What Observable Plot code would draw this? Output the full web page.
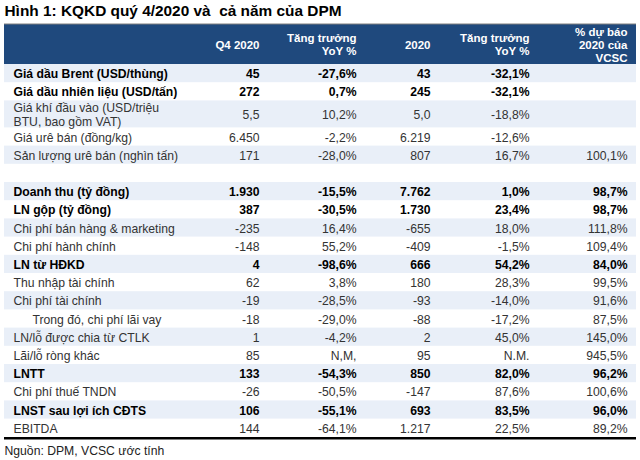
<!DOCTYPE html>
<html>
<head>
<meta charset="utf-8">
<script src="https://cdn.jsdelivr.net/npm/d3@7"></script>
<script src="https://cdn.jsdelivr.net/npm/@observablehq/plot@0.6"></script>
<style>
  html, body { margin: 0; padding: 0; background: #fff; }
  #chart svg { display: block; }
  #chart text { white-space: pre; }
</style>
</head>
<body>
<div id="chart"></div>
<script>
// ---- Data ----
const title = "Hình 1: KQKD quý 4/2020 và  cả năm của DPM";
const caption = "Nguồn: DPM, VCSC ước tính";
const headers = ["Q4 2020", "Tăng trưởng\nYoY %", "2020", "Tăng trưởng\nYoY %", "% dự báo\n2020 của\nVCSC"];
const labels = [
  "Giá dầu Brent (USD/thùng)",
  "Giá dầu nhiên liệu (USD/tấn)",
  "Giá khí đầu vào (USD/triệu\nBTU, bao gồm VAT)",
  "Giá urê bán (đồng/kg)",
  "Sản lượng urê bán (nghìn tấn)",
  "",
  "Doanh thu (tỷ đồng)",
  "LN gộp (tỷ đồng)",
  "Chi phí bán hàng & marketing",
  "Chi phí hành chính",
  "LN từ HĐKD",
  "Thu nhập tài chính",
  "Chi phí tài chính",
  "Trong đó, chi phí lãi vay",
  "LN/lỗ được chia từ CTLK",
  "Lãi/lỗ ròng khác",
  "LNTT",
  "Chi phí thuế TNDN",
  "LNST sau lợi ích CĐTS",
  "EBITDA"
];
const q4 = ["45", "272", "5,5", "6.450", "171", "", "1.930", "387", "-235", "-148", "4", "62", "-19", "-18", "1", "85", "133", "-26", "106", "144"];
const q4Yoy = ["-27,6%", "0,7%", "10,2%", "-2,2%", "-28,0%", "", "-15,5%", "-30,5%", "16,4%", "55,2%", "-98,6%", "3,8%", "-28,5%", "-29,0%", "-4,2%", "N,M,", "-54,3%", "-50,5%", "-55,1%", "-64,1%"];
const fy = ["43", "245", "5,0", "6.219", "807", "", "7.762", "1.730", "-655", "-409", "666", "180", "-93", "-88", "2", "95", "850", "-147", "693", "1.217"];
const fyYoy = ["-32,1%", "-32,1%", "-18,8%", "-12,6%", "16,7%", "", "1,0%", "23,4%", "18,0%", "-1,5%", "54,2%", "28,3%", "-14,0%", "-17,2%", "45,0%", "N.M.", "82,0%", "87,6%", "83,5%", "22,5%"];
const forecast = ["", "", "", "", "100,1%", "", "98,7%", "98,7%", "111,8%", "109,4%", "84,0%", "99,5%", "91,6%", "87,5%", "145,0%", "945,5%", "96,2%", "100,6%", "96,0%", "89,2%"];
const boldLabels = ["Giá dầu Brent (USD/thùng)", "Giá dầu nhiên liệu (USD/tấn)", "Doanh thu (tỷ đồng)", "LN gộp (tỷ đồng)", "LN từ HĐKD", "LNTT", "LNST sau lợi ích CĐTS"];
const indentLabels = ["Trong đó, chi phí lãi vay"];

// ---- Layout (styles/positions) ----
const W = 640, H = 460;
const tableLeft = 4, tableRight = 636;
const headerTop = 24, headerBottom = 64;
const rowH = 18.2, rowH2 = 27;
const labelX = 13, indentX = 32;
const colRight = [259, 356, 430, 529, 627];
const headerBlue = "#1f497d", stripe = "#e9eff8";
const font = "Liberation Sans, Arial, sans-serif";
const fs = 12.2;

const columns = [q4, q4Yoy, fy, fyYoy, forecast];
let yCursor = headerBottom;
const rows = labels.map((label, i) => {
  const h = label.includes("\n") ? rowH2 : rowH;
  const r = {i, label, top: yCursor, bottom: yCursor + h, mid: yCursor + h / 2,
    bold: boldLabels.includes(label), indent: indentLabels.includes(label)};
  yCursor += h;
  return r;
});
const tableBottom = yCursor;
const cells = rows.flatMap(r => columns.map((col, c) => ({...r, c, value: col[r.i]}))).filter(d => d.value !== "");
const headerCells = headers.map((t, c) => ({t, c}));

const textBase = {fontSize: fs, lineHeight: 1.15, lineAnchor: "middle", fontFamily: font};

const chart = Plot.plot({
  width: W, height: H, margin: 0,
  x: {type: "linear", domain: [0, W], range: [0, W], axis: null},
  y: {type: "linear", domain: [0, H], range: [0, H], axis: null},
  style: {fontFamily: font, background: "#fff"},
  marks: [
    // title
    Plot.text([title], {frameAnchor: "top-left", dx: 4, dy: 5, text: d => d, fontSize: 15.4, fontWeight: "bold", lineAnchor: "top", fill: "#000", fontFamily: font}),
    // header band
    Plot.rect([0], {x1: tableLeft, x2: tableRight, y1: headerTop, y2: headerBottom, fill: headerBlue}),
    Plot.ruleY([headerTop - 0.5], {x1: tableLeft, x2: tableRight, stroke: "#7f7f7f", strokeWidth: 1}),
    Plot.text(headerCells, {...textBase, x: d => colRight[d.c], y: (headerTop + headerBottom) / 2, text: "t", textAnchor: "end", fill: "#fff", fontWeight: "bold", fontSize: 11.5}),
    // striped rows
    Plot.rect(rows.filter(r => r.i % 2 === 0), {x1: tableLeft, x2: tableRight, y1: "top", y2: "bottom", fill: stripe}),
    // labels
    Plot.text(rows.filter(r => !r.bold), {...textBase, x: r => r.indent ? indentX : labelX, y: "mid", text: "label", textAnchor: "start", fill: "#333"}),
    Plot.text(rows.filter(r => r.bold), {...textBase, x: labelX, y: "mid", text: "label", textAnchor: "start", fill: "#000", fontWeight: "bold"}),
    // values
    Plot.text(cells.filter(d => !d.bold), {...textBase, x: d => colRight[d.c], y: "mid", text: "value", textAnchor: "end", fill: "#333"}),
    Plot.text(cells.filter(d => d.bold), {...textBase, x: d => colRight[d.c], y: "mid", text: "value", textAnchor: "end", fill: "#000", fontWeight: "bold"}),
    // bottom rule
    Plot.ruleY([tableBottom + 1], {x1: tableLeft, x2: tableRight, stroke: "#000", strokeWidth: 2.5}),
    // caption
    Plot.text([caption], {x: tableLeft, y: tableBottom + 14, text: d => d, textAnchor: "start", lineAnchor: "middle", fontSize: 12.2, fill: "#222", fontFamily: font})
  ]
});
document.getElementById("chart").appendChild(chart);
</script>
</body>
</html>
